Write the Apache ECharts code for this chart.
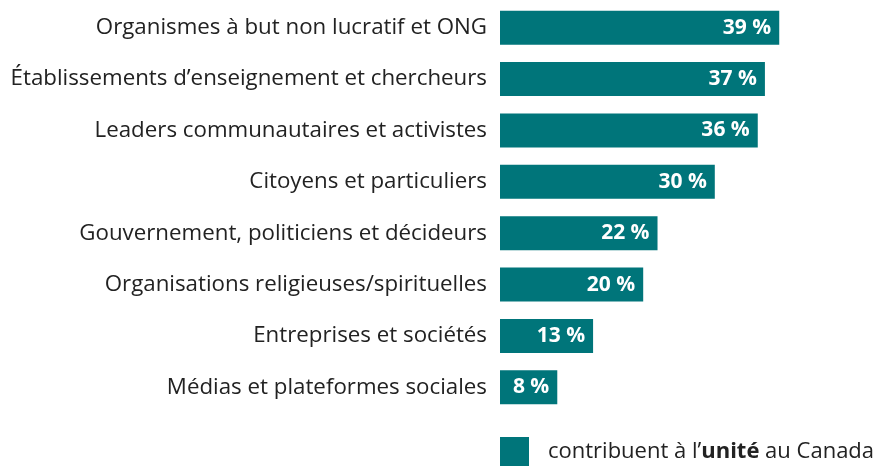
<!DOCTYPE html>
<html><head><meta charset="utf-8">
<script src="https://cdn.jsdelivr.net/npm/echarts@6/dist/echarts.min.js"></script>
<style>html,body{margin:0;padding:0;background:#fff}#c{width:877px;height:466px}</style>
</head><body><div id="c"></div>
<script>
const categories = [
  "Organismes à but non lucratif et ONG",
  "Établissements d’enseignement et chercheurs",
  "Leaders communautaires et activistes",
  "Citoyens et particuliers",
  "Gouvernement, politiciens et décideurs",
  "Organisations religieuses/spirituelles",
  "Entreprises et sociétés",
  "Médias et plateformes sociales"
];
const values = [39, 37, 36, 30, 22, 20, 13, 8];
const seriesName = "contribuent à l’unité au Canada";

const chart = echarts.init(document.getElementById('c'), null, {renderer: 'canvas'});
chart.setOption({
  animation: false,
  textStyle: {fontFamily: 'Open Sans'},
  grid: {left: 500, top: 2, width: 358, height: 411, containLabel: false},
  xAxis: {type: 'value', min: 0, max: 50, show: false},
  yAxis: {
    type: 'category', data: categories, inverse: true,
    axisLine: {show: false},
    axisTick: {show: false},
    axisLabel: {fontSize: 22.3, color: '#222', margin: 13, fontFamily: 'Open Sans'}
  },
  legend: {
    left: 500, top: 437, padding: 0, itemWidth: 29, itemHeight: 29, icon: 'rect',
    data: [seriesName],
    formatter: () => '{s|}{a|contribuent à l’}{b|unité}{a| au Canada}',
    textStyle: {
      rich: {
        s: {width: 14},
        a: {fontSize: 22, color: '#222', fontFamily: 'Open Sans'},
        b: {fontSize: 22, color: '#222', fontWeight: 'bold', fontFamily: 'Open Sans'}
      }
    }
  },
  series: [{
    type: 'bar', name: seriesName, data: values, barWidth: 34,
    itemStyle: {color: '#00757A'},
    label: {
      show: true, position: 'insideRight', distance: 8,
      formatter: p => p.value + ' %',
      color: '#fff', fontWeight: 'bold', fontSize: 21, fontFamily: 'Open Sans'
    }
  }]
});
</script></body></html>
